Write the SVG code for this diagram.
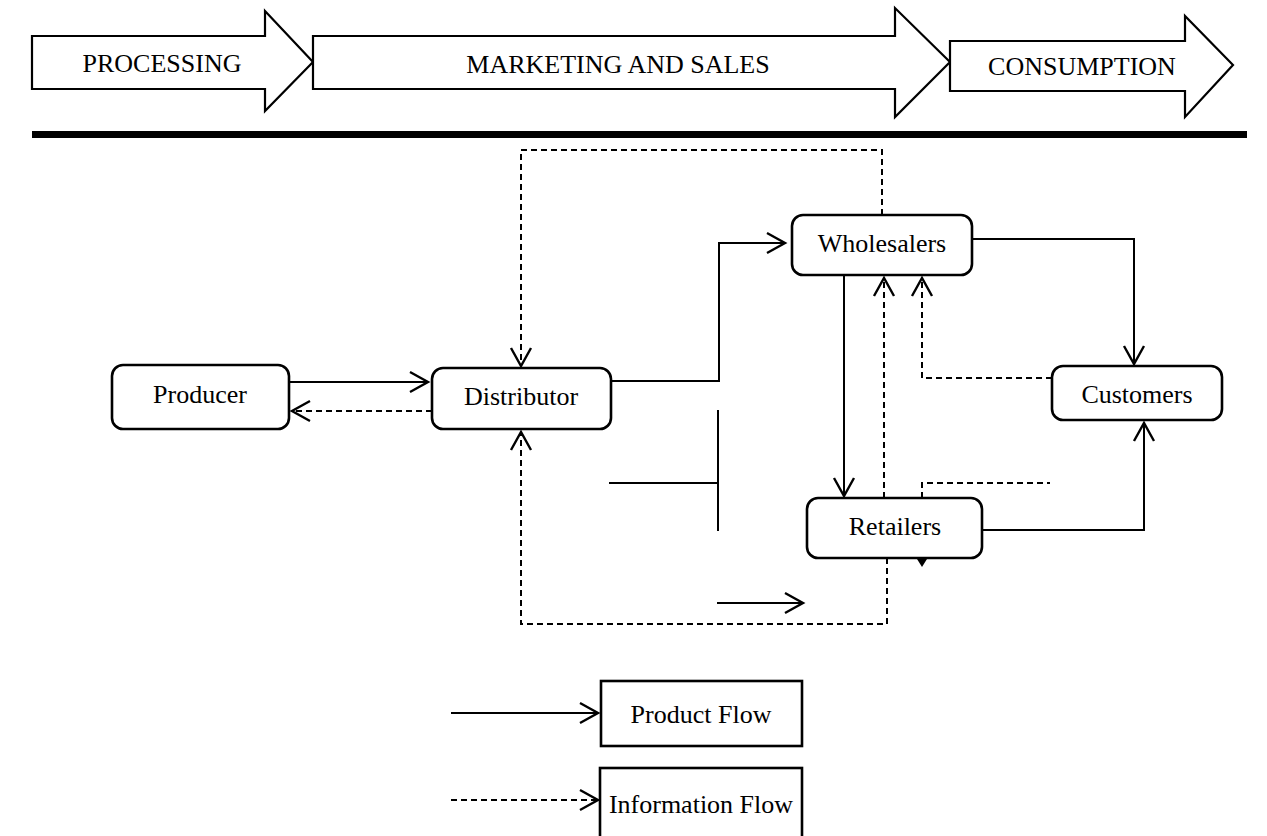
<svg xmlns="http://www.w3.org/2000/svg" width="1267" height="836" viewBox="0 0 1267 836">
<defs>
<style>
.t{font-family:"Liberation Serif","Times New Roman",serif;font-size:26px;fill:#000;text-anchor:middle}
.band{fill:#fff;stroke:#000;stroke-width:2.2;stroke-linejoin:miter}
.node{fill:#fff;stroke:#000;stroke-width:2.6}
.box{fill:#fff;stroke:#000;stroke-width:2.6}
.s{fill:none;stroke:#000;stroke-width:2}
.d{fill:none;stroke:#000;stroke-width:2;stroke-dasharray:6 4}
</style>
<marker id="ah" markerWidth="24" markerHeight="24" refX="20" refY="12" orient="auto" markerUnits="userSpaceOnUse">
<path d="M2,2 L20,12 L2,22" fill="none" stroke="#000" stroke-width="2.4" stroke-dasharray="none"/>
</marker>
</defs>
<rect width="1267" height="836" fill="#fff"/>

<g id="stages">
<polygon class="band" points="32,36 265,36 265,11 313,62 265,111 265,89 32,89"/>
<polygon class="band" points="313,36 895,36 895,8 950,62 895,117 895,89 313,89"/>
<polygon class="band" points="950,41 1185,41 1185,16 1233,65 1185,117 1185,91 950,91"/>
<text class="t" x="162" y="72">PROCESSING</text>
<text class="t" x="618" y="73">MARKETING AND SALES</text>
<text class="t" x="1082" y="75">CONSUMPTION</text>
<rect x="32" y="131" width="1215" height="7" fill="#000"/>
</g>

<g id="connectors">
<path class="s" d="M289,382 H428" marker-end="url(#ah)"/>
<path class="d" d="M432,411 H292" marker-end="url(#ah)"/>
<path class="s" d="M611,381 H719 V243 H785" marker-end="url(#ah)"/>
<path class="s" d="M718,410 V531"/>
<path class="s" d="M609,483 H718"/>
<path class="s" d="M844,275 V496" marker-end="url(#ah)"/>
<path class="d" d="M884,498 V278" marker-end="url(#ah)"/>
<path class="d" d="M1052,378 H922 V278" marker-end="url(#ah)"/>
<path class="s" d="M972,239 H1134 V364" marker-end="url(#ah)"/>
<path class="s" d="M982,530 H1144 V423" marker-end="url(#ah)"/>
<path class="d" d="M922,498 V483 H1050"/>
<polygon points="917,559 927,559 922,567" fill="#000"/>
<path class="d" d="M887,558 V624 H521 V432" marker-end="url(#ah)"/>
<path class="d" d="M882,215 V150 H521 V366" marker-end="url(#ah)"/>
<path class="s" d="M717,603 H803" marker-end="url(#ah)"/>
</g>

<g id="producer">
<rect class="node" x="112" y="365" width="177" height="64" rx="11"/>
<text class="t" x="200" y="403">Producer</text>
</g>
<g id="distributor">
<rect class="node" x="432" y="368" width="179" height="61" rx="11"/>
<text class="t" x="521" y="405">Distributor</text>
</g>
<g id="wholesalers">
<rect class="node" x="792" y="215" width="180" height="60" rx="11"/>
<text class="t" x="882" y="252">Wholesalers</text>
</g>
<g id="customers">
<rect class="node" x="1052" y="366" width="170" height="54" rx="11"/>
<text class="t" x="1137" y="403">Customers</text>
</g>
<g id="retailers">
<rect class="node" x="807" y="498" width="175" height="60" rx="11"/>
<text class="t" x="895" y="535">Retailers</text>
</g>

<g id="legend">
<path class="s" d="M451,713 H598" marker-end="url(#ah)"/>
<path class="d" d="M451,800 H598" marker-end="url(#ah)"/>
<g id="legend-product">
<rect class="box" x="601" y="681" width="201" height="65"/>
<text class="t" x="701" y="723">Product Flow</text>
</g>
<g id="legend-information">
<rect class="box" x="600" y="768" width="202" height="72"/>
<text class="t" x="701" y="813">Information Flow</text>
</g>
</g>
</svg>
